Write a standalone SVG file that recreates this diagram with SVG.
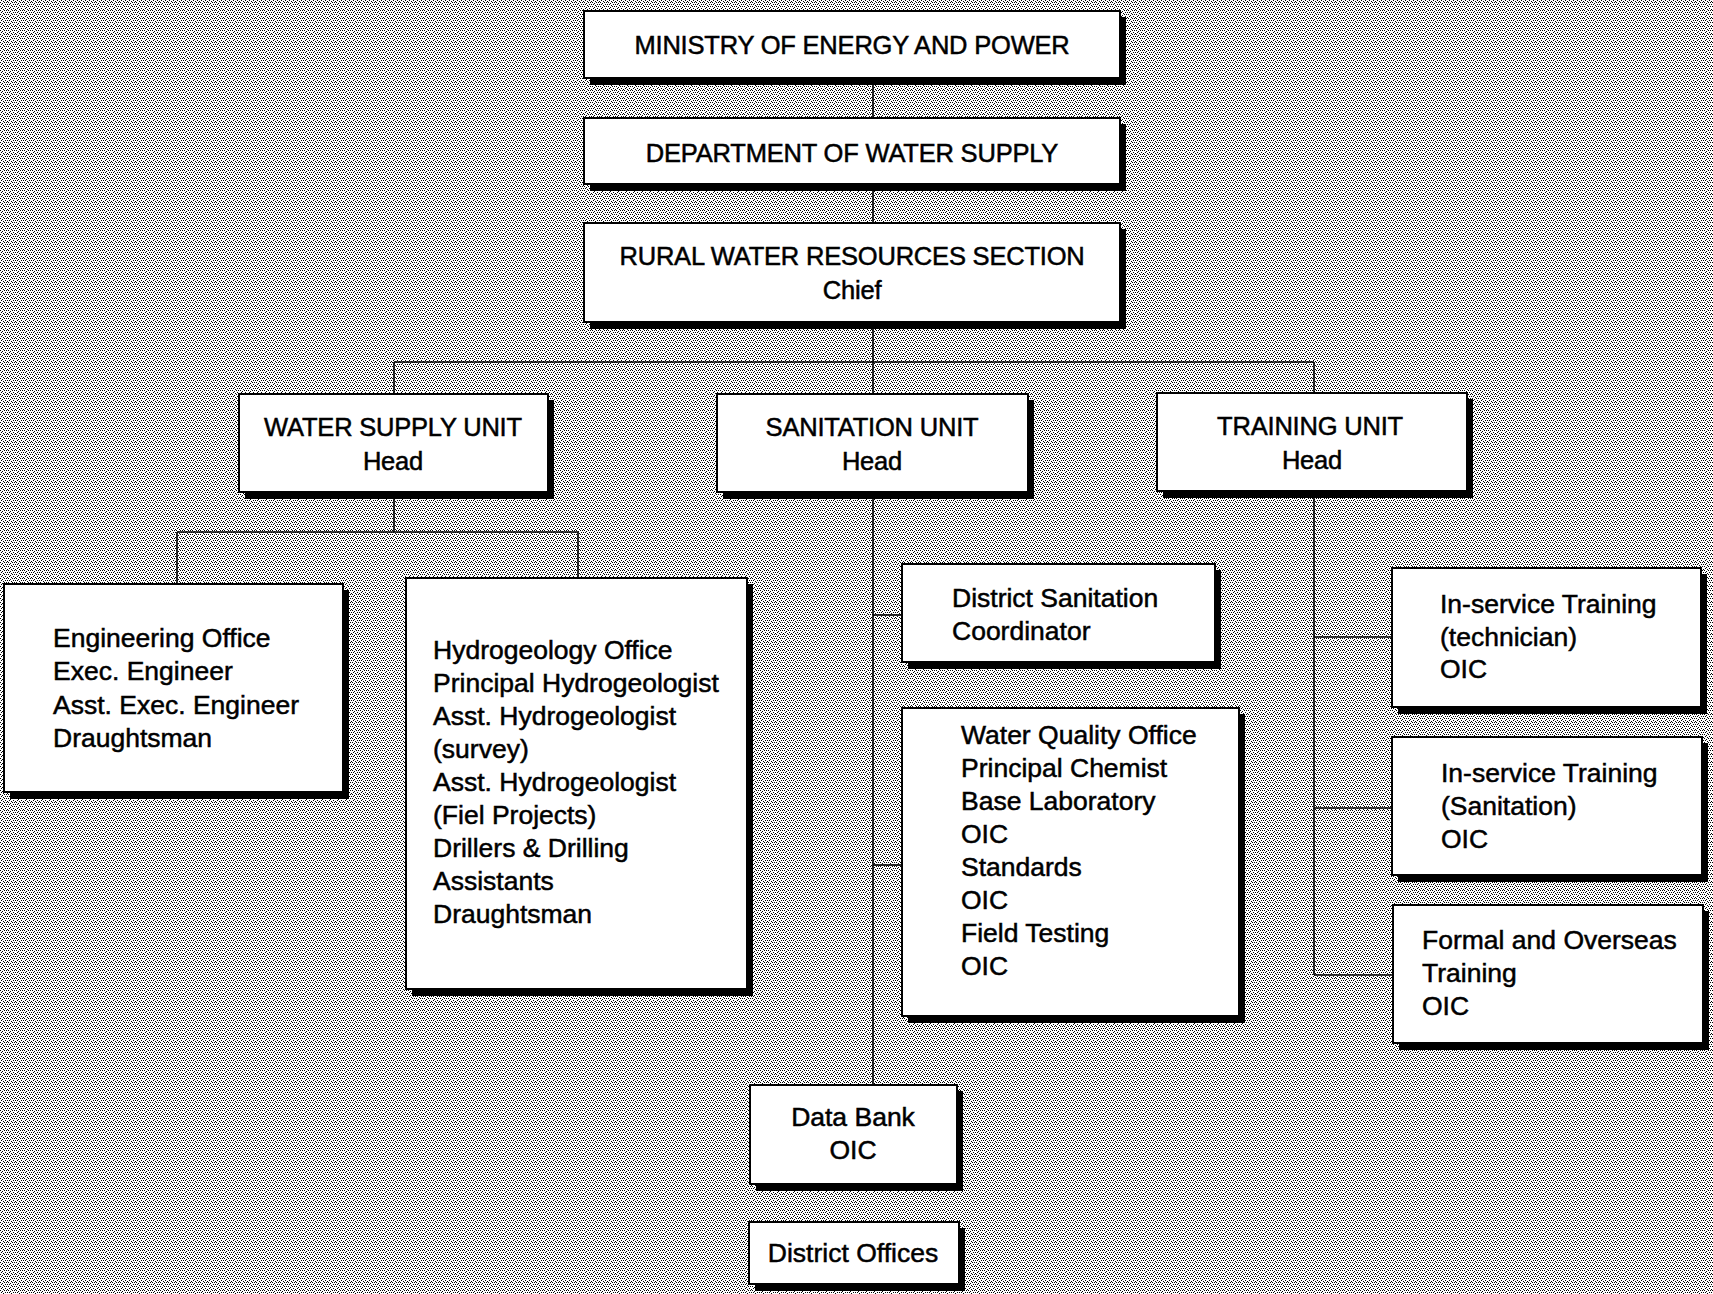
<svg xmlns="http://www.w3.org/2000/svg" width="1713" height="1294" viewBox="0 0 1713 1294">
  <defs>
    <!-- halftone screen used for the page background -->
    <pattern id="screen" width="8" height="8" patternUnits="userSpaceOnUse">
      <rect width="8" height="8" fill="#ffffff"/>
      <path fill="#000" d="M1 0h1v1h-1z M5 0h1v1h-1z
                           M3 1h1v1h-1z M7 1h1v1h-1z
                           M0 2h1v1h-1z M4 2h1v1h-1z M6 2h1v1h-1z
                           M2 3h1v1h-1z
                           M1 4h1v1h-1z M5 4h1v1h-1z M7 4h1v1h-1z
                           M3 5h1v1h-1z
                           M0 6h1v1h-1z M4 6h1v1h-1z M6 6h1v1h-1z
                           M2 7h1v1h-1z"/>
    </pattern>
  </defs>
  <style>
    .shadow { fill: #000; }
    .box { fill: #fff; stroke: #000; stroke-width: 2; }
    .h { font-family: "Liberation Sans", Arial, sans-serif; font-size: 25.5px; fill: #000; stroke: #000; stroke-width: 0.5; text-anchor: middle; letter-spacing: -0.2px; }
    .t { font-family: "Liberation Sans", Arial, sans-serif; font-size: 26.5px; fill: #000; stroke: #000; stroke-width: 0.5; }
    .tc { text-anchor: middle; }
    .link { fill: none; stroke: #000; stroke-width: 1.6; }
  </style>

  <rect width="1713" height="1294" fill="url(#screen)"/>

  <!-- connectors -->
  <g id="connectors" class="link">
    <path d="M873 78 V118"/>
    <path d="M873 184 V223"/>
    <path d="M873 322 V394"/>
    <path d="M394 362 H1314"/>
    <path d="M394 362 V394"/>
    <path d="M1314 362 V393"/>
    <!-- water supply unit branches -->
    <path d="M394 492 V532"/>
    <path d="M177 532 H578"/>
    <path d="M177 532 V584"/>
    <path d="M578 532 V578"/>
    <!-- sanitation unit branches -->
    <path d="M873 492 V1085"/>
    <path d="M873 615 H902"/>
    <path d="M873 865 H902"/>
    <!-- training unit branches -->
    <path d="M1314 491 V975"/>
    <path d="M1314 637 H1392"/>
    <path d="M1314 808 H1392"/>
    <path d="M1314 975 H1393"/>
  </g>

  <g id="ministry">
    <rect class="shadow" x="590" y="17" width="536" height="68"/>
    <rect class="box" x="584" y="11" width="536" height="67"/>
    <text class="h" x="852" y="54">MINISTRY OF ENERGY AND POWER</text>
  </g>

  <g id="department">
    <rect class="shadow" x="590" y="124" width="536" height="67"/>
    <rect class="box" x="584" y="118" width="536" height="66"/>
    <text class="h" x="852" y="162">DEPARTMENT OF WATER SUPPLY</text>
  </g>

  <g id="rural-section">
    <rect class="shadow" x="590" y="229" width="536" height="100"/>
    <rect class="box" x="584" y="223" width="536" height="99"/>
    <text class="h" x="852" y="265">RURAL WATER RESOURCES SECTION</text>
    <text class="h" x="852" y="299">Chief</text>
  </g>

  <g id="water-supply-unit">
    <rect class="shadow" x="245" y="400" width="309" height="99"/>
    <rect class="box" x="239" y="394" width="309" height="98"/>
    <text class="h" x="393" y="436">WATER SUPPLY UNIT</text>
    <text class="h" x="393" y="470">Head</text>
  </g>

  <g id="sanitation-unit">
    <rect class="shadow" x="723" y="400" width="311" height="99"/>
    <rect class="box" x="717" y="394" width="311" height="98"/>
    <text class="h" x="872" y="436">SANITATION UNIT</text>
    <text class="h" x="872" y="470">Head</text>
  </g>

  <g id="training-unit">
    <rect class="shadow" x="1163" y="399" width="310" height="99"/>
    <rect class="box" x="1157" y="393" width="310" height="98"/>
    <text class="h" x="1310" y="435">TRAINING UNIT</text>
    <text class="h" x="1312" y="469">Head</text>
  </g>

  <g id="engineering-office">
    <rect class="shadow" x="10" y="590" width="339" height="209"/>
    <rect class="box" x="4" y="584" width="339" height="208"/>
    <text class="t" x="53" y="647">Engineering Office</text>
    <text class="t" x="53" y="680">Exec. Engineer</text>
    <text class="t" x="53" y="714">Asst. Exec. Engineer</text>
    <text class="t" x="53" y="747">Draughtsman</text>
  </g>

  <g id="hydrogeology-office">
    <rect class="shadow" x="412" y="584" width="341" height="412"/>
    <rect class="box" x="406" y="578" width="341" height="411"/>
    <text class="t" x="433" y="659">Hydrogeology Office</text>
    <text class="t" x="433" y="692">Principal Hydrogeologist</text>
    <text class="t" x="433" y="725">Asst. Hydrogeologist</text>
    <text class="t" x="433" y="758">(survey)</text>
    <text class="t" x="433" y="791">Asst. Hydrogeologist</text>
    <text class="t" x="433" y="824">(Fiel Projects)</text>
    <text class="t" x="433" y="857">Drillers &amp; Drilling</text>
    <text class="t" x="433" y="890">Assistants</text>
    <text class="t" x="433" y="923">Draughtsman</text>
  </g>

  <g id="district-sanitation">
    <rect class="shadow" x="908" y="570" width="313" height="99"/>
    <rect class="box" x="902" y="564" width="313" height="98"/>
    <text class="t" x="952" y="607">District Sanitation</text>
    <text class="t" x="952" y="640">Coordinator</text>
  </g>

  <g id="water-quality-office">
    <rect class="shadow" x="908" y="714" width="337" height="309"/>
    <rect class="box" x="902" y="708" width="337" height="308"/>
    <text class="t" x="961" y="744">Water Quality Office</text>
    <text class="t" x="961" y="777">Principal Chemist</text>
    <text class="t" x="961" y="810">Base Laboratory</text>
    <text class="t" x="961" y="843">OIC</text>
    <text class="t" x="961" y="876">Standards</text>
    <text class="t" x="961" y="909">OIC</text>
    <text class="t" x="961" y="942">Field Testing</text>
    <text class="t" x="961" y="975">OIC</text>
  </g>

  <g id="data-bank">
    <rect class="shadow" x="756" y="1091" width="207" height="100"/>
    <rect class="box" x="750" y="1085" width="207" height="99"/>
    <text class="t tc" x="853" y="1126">Data Bank</text>
    <text class="t tc" x="853" y="1159">OIC</text>
  </g>

  <g id="district-offices">
    <rect class="shadow" x="755" y="1228" width="210" height="63"/>
    <rect class="box" x="749" y="1222" width="210" height="62"/>
    <text class="t tc" x="853" y="1262">District Offices</text>
  </g>

  <g id="inservice-technician">
    <rect class="shadow" x="1398" y="574" width="309" height="140"/>
    <rect class="box" x="1392" y="568" width="309" height="139"/>
    <text class="t" x="1440" y="613">In-service Training</text>
    <text class="t" x="1440" y="646">(technician)</text>
    <text class="t" x="1440" y="678">OIC</text>
  </g>

  <g id="inservice-sanitation">
    <rect class="shadow" x="1398" y="743" width="310" height="139"/>
    <rect class="box" x="1392" y="737" width="310" height="138"/>
    <text class="t" x="1441" y="782">In-service Training</text>
    <text class="t" x="1441" y="815">(Sanitation)</text>
    <text class="t" x="1441" y="848">OIC</text>
  </g>

  <g id="formal-overseas">
    <rect class="shadow" x="1399" y="911" width="310" height="139"/>
    <rect class="box" x="1393" y="905" width="310" height="138"/>
    <text class="t" x="1422" y="949">Formal and Overseas</text>
    <text class="t" x="1422" y="982">Training</text>
    <text class="t" x="1422" y="1015">OIC</text>
  </g>
</svg>
